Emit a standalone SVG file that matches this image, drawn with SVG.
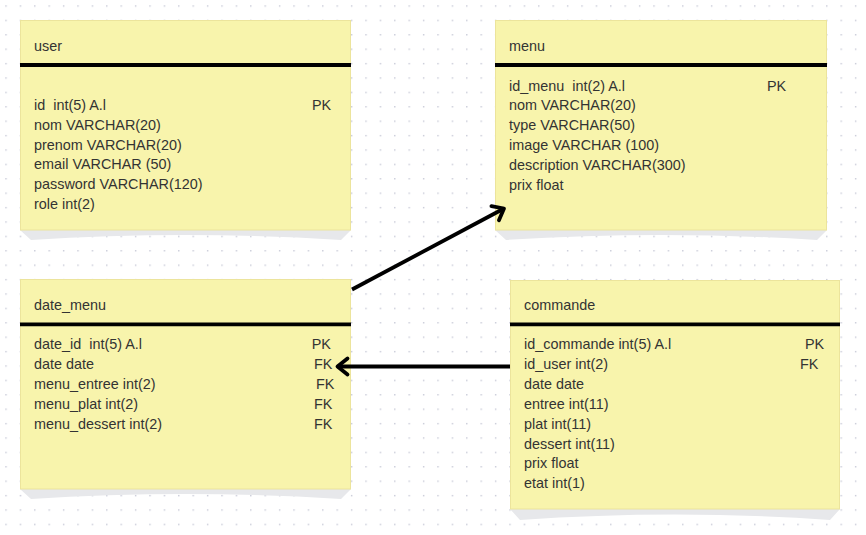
<svg xmlns="http://www.w3.org/2000/svg" width="866" height="535" viewBox="0 0 866 535">
<defs>
<pattern id="dots" x="5.3" y="5.3" width="14.4" height="14.4" patternUnits="userSpaceOnUse">
<rect x="0" y="0" width="1.4" height="1.4" fill="#c6c8d6"/>
</pattern>
<marker id="chev" markerUnits="userSpaceOnUse" orient="auto" markerWidth="30" markerHeight="30" refX="0" refY="0" viewBox="-15 -15 30 30" overflow="visible">
<path d="M-10,-8 L0,0 L-10,8" fill="none" stroke="#000" stroke-width="3.8" stroke-linecap="round" stroke-linejoin="round"/>
</marker>
<style>
.box{fill:#f8f4ac;stroke:#ece49c;stroke-width:1}
.shadow{fill:#e7e8eb}
.bar{stroke:#000;stroke-width:3.8}
text{font-family:"Liberation Sans",Arial,sans-serif;font-size:14.4px;fill:#333;white-space:pre}
.conn{stroke:#000;stroke-width:3.8;fill:none;marker-end:url(#chev)}
</style>
</defs>
<rect width="866" height="535" fill="#fff"/>
<rect width="866" height="535" fill="url(#dots)"/>

<g id="user">
<path class="shadow" d="M20,230 L351,230 L341,240 Q185,230 31,240 Z"/>
<rect class="box" x="20.5" y="20.5" width="330" height="209.5"/>
<line class="bar" x1="20" y1="65" x2="351" y2="65"/>
<text x="34" y="51">user</text>
<text x="34" y="110" xml:space="preserve">id  int(5) A.l</text>
<text x="312" y="110">PK</text>
<text x="34" y="130">nom VARCHAR(20)</text>
<text x="34" y="149.5">prenom VARCHAR(20)</text>
<text x="34" y="169.2">email VARCHAR (50)</text>
<text x="34" y="189">password VARCHAR(120)</text>
<text x="34" y="208.7">role int(2)</text>
</g>

<g id="menu">
<path class="shadow" d="M495,230 L827,230 L817,240 Q661,230 506,240 Z"/>
<rect class="box" x="495.5" y="20.5" width="331" height="209.5"/>
<line class="bar" x1="495" y1="65" x2="827" y2="65"/>
<text x="509" y="51">menu</text>
<text x="509" y="90.5" xml:space="preserve">id_menu  int(2) A.l</text>
<text x="767" y="90.5">PK</text>
<text x="509" y="110">nom VARCHAR(20)</text>
<text x="509" y="130">type VARCHAR(50)</text>
<text x="509" y="150">image VARCHAR (100)</text>
<text x="509" y="170">description VARCHAR(300)</text>
<text x="509" y="189.5">prix float</text>
</g>

<g id="date_menu">
<path class="shadow" d="M20,489 L351,489 L341,499 Q185,489 31,499 Z"/>
<rect class="box" x="20.5" y="279.5" width="330" height="209.5"/>
<line class="bar" x1="20" y1="324.3" x2="351" y2="324.3"/>
<text x="34" y="310">date_menu</text>
<text x="34" y="349" xml:space="preserve">date_id  int(5) A.l</text>
<text x="311.7" y="349">PK</text>
<text x="34" y="369">date date</text>
<text x="314" y="369">FK</text>
<text x="34" y="389">menu_entree int(2)</text>
<text x="316" y="389">FK</text>
<text x="34" y="409">menu_plat int(2)</text>
<text x="314" y="409">FK</text>
<text x="34" y="428.7">menu_dessert int(2)</text>
<text x="314" y="428.7">FK</text>
</g>

<g id="commande">
<path class="shadow" d="M510,509 L840,509 L830,520 Q675,509 520,520 Z"/>
<rect class="box" x="510.5" y="280.5" width="329" height="228.5"/>
<line class="bar" x1="510" y1="324.3" x2="840" y2="324.3"/>
<text x="524" y="310">commande</text>
<text x="524" y="349">id_commande int(5) A.l</text>
<text x="805" y="349">PK</text>
<text x="524" y="369">id_user int(2)</text>
<text x="800" y="369">FK</text>
<text x="524" y="389">date date</text>
<text x="524" y="409">entree int(11)</text>
<text x="524" y="428.5">plat int(11)</text>
<text x="524" y="448.5">dessert int(11)</text>
<text x="524" y="468">prix float</text>
<text x="524" y="488">etat int(1)</text>
</g>

<g id="connectors">
<line class="conn" x1="352" y1="289.5" x2="504" y2="208.5"/>
<line class="conn" x1="510" y1="366.5" x2="337.5" y2="366.5"/>
</g>
</svg>
